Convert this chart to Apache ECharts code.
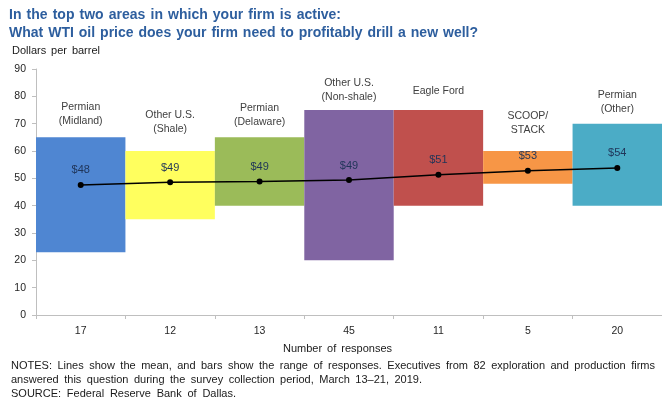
<!DOCTYPE html>
<html>
<head>
<meta charset="utf-8">
<script src="https://cdn.jsdelivr.net/npm/echarts@6/dist/echarts.min.js"></script>
<style>
  html, body { margin: 0; padding: 0; background: #fff; }
  #chart { width: 662px; height: 401px; }
</style>
</head>
<body>
<div id="chart"></div>
<script>
// Break-even WTI price by area: range of responses (floating bars) and mean (line)
const areaNames = ['Permian\n(Midland)', 'Other U.S.\n(Shale)', 'Permian\n(Delaware)', 'Other U.S.\n(Non-shale)', 'Eagle Ford', 'SCOOP/\nSTACK', 'Permian\n(Other)'];
const responseCounts = ['17', '12', '13', '45', '11', '5', '20'];
const rangeLow = [23, 35, 40, 20, 40, 48, 40];
const rangeHigh = [65, 60, 65, 75, 75, 60, 70];
const meanPrice = [47.6, 48.6, 48.8, 49.4, 51.3, 52.8, 53.8];
const yTicks = [0, 10, 20, 30, 40, 50, 60, 70, 80, 90];

// presentation settings
const barColors = ['#4f86d2', '#ffff5e', '#9bbb59', '#8064a2', '#c0504d', '#f79646', '#4bacc6'];
const nameGap = [9, 15, 8, 6, 12, 14, 8];
const FONT = '"Liberation Sans", Arial, sans-serif';

const titleLine1 = 'In the top two areas in which your firm is active:';
const titleLine2 = 'What WTI oil price does your firm need to profitably drill a new well?';
const unitText = 'Dollars per barrel';
const axisTitle = 'Number of responses';
const notesLine1 = 'NOTES: Lines show the mean, and bars show the range of responses. Executives from 82 exploration and production firms';
const notesLine2 = 'answered this question during the survey collection period, March 13\u201321, 2019.';
const sourceLine = 'SOURCE: Federal Reserve Bank of Dallas.';

// Spread the words of a line across a fixed width (justified text)
function justified(text, x, y, width, size, opts) {
  opts = opts || {};
  const weight = opts.bold ? 'bold ' : '';
  const fill = opts.color || '#1a1a1a';
  const ctx = document.createElement('canvas').getContext('2d');
  ctx.font = weight + size + 'px ' + FONT;
  const words = text.split(' ');
  const widths = words.map(w => ctx.measureText(w).width);
  const total = widths.reduce((a, b) => a + b, 0);
  const gap = words.length > 1 ? (width - total) / (words.length - 1) : 0;
  let cx = x;
  return words.map((w, i) => {
    const el = {
      type: 'text', left: cx, top: y, silent: true,
      style: { text: w, fontSize: size, fontFamily: FONT, fontWeight: opts.bold ? 'bold' : 'normal', fill: fill }
    };
    cx += widths[i] + gap;
    return el;
  });
}

const chart = echarts.init(document.getElementById('chart'), null, { renderer: 'canvas' });

const titleColor = '#2d5e9e';

chart.setOption({
  backgroundColor: '#ffffff',
  animation: false,
  textStyle: { fontFamily: FONT },
  grid: { left: 36, top: 69, width: 630, height: 246, containLabel: false },
  xAxis: {
    type: 'category',
    data: responseCounts,
    boundaryGap: true,
    axisLine: { show: true, lineStyle: { color: '#bfbfbf', width: 1 } },
    axisTick: { show: true, length: 4, lineStyle: { color: '#bfbfbf' } },
    axisLabel: { fontSize: 10.5, color: '#262626', margin: 11, fontFamily: FONT },
    splitLine: { show: false }
  },
  yAxis: {
    type: 'value',
    min: yTicks[0],
    max: yTicks[yTicks.length - 1],
    interval: yTicks[1] - yTicks[0],
    axisLine: { show: true, lineStyle: { color: '#bfbfbf', width: 1 } },
    axisTick: { show: true, length: 4, lineStyle: { color: '#bfbfbf' } },
    axisLabel: { fontSize: 10.5, color: '#262626', margin: 10, fontFamily: FONT },
    splitLine: { show: false }
  },
  series: [
    {
      name: 'base',
      type: 'bar',
      stack: 'range',
      silent: true,
      barCategoryGap: '0%',
      itemStyle: { color: 'transparent' },
      data: rangeLow
    },
    {
      name: 'Range',
      type: 'bar',
      stack: 'range',
      barCategoryGap: '0%',
      data: rangeHigh.map((h, i) => ({
        value: h - rangeLow[i],
        itemStyle: { color: barColors[i] },
        label: {
          show: true,
          position: 'top',
          distance: nameGap[i],
          formatter: areaNames[i],
          fontSize: 10.5,
          lineHeight: 14,
          color: '#404040',
          fontFamily: FONT
        }
      }))
    },
    {
      name: 'Mean',
      type: 'line',
      data: meanPrice,
      symbol: 'circle',
      symbolSize: 6,
      z: 5,
      lineStyle: { color: '#000', width: 1.5 },
      itemStyle: { color: '#000' },
      label: {
        show: true,
        position: 'top',
        distance: 6,
        formatter: p => '$' + Math.round(p.value),
        fontSize: 11,
        color: '#1f3458',
        fontFamily: FONT
      }
    }
  ],
  graphic: []
    .concat(justified(titleLine1, 9, 8.5, 332, 14, { bold: true, color: titleColor }))
    .concat(justified(titleLine2, 9, 26.5, 469, 14, { bold: true, color: titleColor }))
    .concat(justified(unitText, 12, 45.5, 88, 11))
    .concat(justified(axisTitle, 283, 343.5, 109, 11))
    .concat(justified(notesLine1, 11, 360.5, 644, 11))
    .concat(justified(notesLine2, 11, 374.5, 411, 11))
    .concat(justified(sourceLine, 11, 388.5, 225, 11))
});
</script>
</body>
</html>
